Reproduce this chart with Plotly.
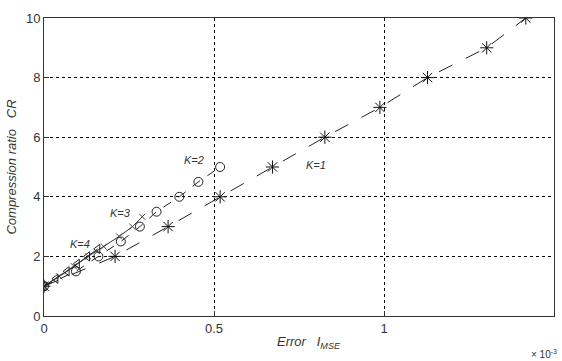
import plotly.graph_objects as go

# Error I_MSE in units of 1e-3, compression ratio CR
k1_err = [0.0, 0.209, 0.365, 0.518, 0.672, 0.826, 0.988, 1.128, 1.302, 1.417]
k1_cr = [1, 2, 3, 4, 5, 6, 7, 8, 9, 10]

k2_err = [0.0, 0.094, 0.160, 0.226, 0.282, 0.331, 0.398, 0.454, 0.518]
k2_cr = [1, 1.5, 2, 2.5, 3, 3.5, 4, 4.5, 5]

k3_err = [0.0, 0.045, 0.088, 0.130, 0.176, 0.221, 0.260, 0.289]
k3_cr = [1, 1.33, 1.67, 2, 2.33, 2.67, 3, 3.33]

k4_err = [0.0, 0.035, 0.068, 0.098, 0.128, 0.158]
k4_cr = [1, 1.25, 1.5, 1.75, 2, 2.25]

labels = ["K=1", "K=2", "K=3", "K=4"]
label_x = [0.80, 0.44, 0.224, 0.106]
label_y = [5.07, 5.25, 3.45, 2.42]

xticks = [0, 0.5, 1, 1.5]
xticklabels = ["0", "0.5", "1", "1.5"]
yticks = [0, 2, 4, 6, 8, 10]

FONT = "Liberation Sans, Arial"

fig = go.Figure()
fig.add_trace(go.Scatter(x=k1_err, y=k1_cr, mode="lines+markers",
                         line=dict(color="#222", width=1, dash="longdash"),
                         marker=dict(symbol="asterisk-open", size=11, color="#111",
                                     line=dict(width=1, color="#111"))))
fig.add_trace(go.Scatter(x=k2_err, y=k2_cr, mode="lines+markers",
                         line=dict(color="#222", width=1, dash="dash"),
                         marker=dict(symbol="circle-open", size=9, color="#222",
                                     line=dict(width=1, color="#222"))))
fig.add_trace(go.Scatter(x=k3_err, y=k3_cr, mode="lines+markers",
                         line=dict(color="#333", width=1),
                         marker=dict(symbol="x-thin-open", size=6, color="#444",
                                     line=dict(width=1, color="#444"))))
fig.add_trace(go.Scatter(x=k4_err, y=k4_cr, mode="lines+markers",
                         line=dict(color="#222", width=1),
                         marker=dict(symbol="triangle-left-open", size=8, color="#222",
                                     line=dict(width=1, color="#222"))))

for t, xx, yy in zip(labels, label_x, label_y):
    fig.add_annotation(x=xx, y=yy, text="<i>" + t + "</i>", showarrow=False,
                       font=dict(size=11, color="#333", family=FONT))

fig.add_annotation(xref="paper", yref="paper", x=0.52, y=-0.055, yanchor="top",
                   text="<i>Error   I<sub>MSE</sub></i>", showarrow=False,
                   font=dict(size=13, color="#333", family=FONT))
fig.add_annotation(xref="paper", yref="paper", x=1.01, y=-0.1, xanchor="right", yanchor="top",
                   text="× 10<sup>-3</sup>", showarrow=False,
                   font=dict(size=10, color="#333", family=FONT))

axis_common = dict(showline=True, linecolor="#333", linewidth=1, mirror=True,
                   ticks="inside", ticklen=5, tickcolor="#333",
                   showgrid=True, gridcolor="#000", gridwidth=1, griddash="dot",
                   zeroline=False,
                   tickfont=dict(size=13, color="#333", family=FONT))

fig.update_xaxes(range=[0, 1.5], tickvals=xticks, ticktext=xticklabels, **axis_common)
fig.update_yaxes(range=[0, 10], tickvals=yticks,
                 title=dict(text="<i>Compression ratio   CR</i>", standoff=6,
                            font=dict(size=13, color="#333", family=FONT)),
                 **axis_common)

fig.update_layout(width=562, height=361, margin=dict(l=44, r=8, t=18, b=45),
                  plot_bgcolor="white", paper_bgcolor="white", showlegend=False)

fig.write_html("out.html")
